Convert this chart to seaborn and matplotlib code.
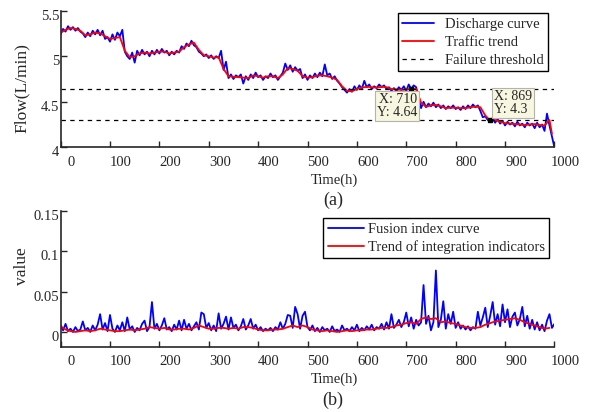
import matplotlib
matplotlib.use("Agg")
import matplotlib.pyplot as plt
import matplotlib.transforms as mtransforms
import numpy as np
import pandas as pd
import seaborn as sns

# ---------------- data ----------------
# (a) discharge flow, sampled every 5 h
flow_time = list(range(0, 1001, 5))
flow_value = [
    5.24, 5.30, 5.27, 5.33, 5.29, 5.32, 5.28, 5.31, 5.27, 5.25,
    5.21, 5.26, 5.22, 5.28, 5.24, 5.29, 5.23, 5.28, 5.19, 5.21,
    5.16, 5.24, 5.18, 5.26, 5.22, 5.29, 5.05, 5.00, 4.97, 5.04,
    4.93, 5.06, 5.01, 5.07, 5.02, 5.05, 5.00, 5.06, 5.02, 5.07,
    5.03, 5.08, 5.04, 5.06, 5.01, 5.05, 5.02, 5.06, 5.04, 5.11,
    5.08, 5.14, 5.11, 5.17, 5.12, 5.10, 5.05, 5.03, 5.00, 5.02,
    4.98, 5.01, 4.97, 5.00, 4.98, 5.06, 4.85, 4.94, 4.76, 4.80,
    4.75, 4.79, 4.77, 4.80, 4.70, 4.78, 4.74, 4.80, 4.76, 4.82,
    4.77, 4.79, 4.74, 4.78, 4.76, 4.81, 4.77, 4.79, 4.74, 4.78,
    4.82, 4.92, 4.85, 4.90, 4.83, 4.88, 4.84, 4.86, 4.76, 4.80,
    4.74, 4.79, 4.76, 4.81, 4.77, 4.82, 4.78, 4.91, 4.79, 4.81,
    4.75, 4.78, 4.73, 4.70, 4.66, 4.63, 4.60, 4.64, 4.61, 4.67,
    4.63, 4.68, 4.64, 4.73, 4.66, 4.69, 4.64, 4.67, 4.65, 4.69,
    4.66, 4.68, 4.64, 4.66, 4.62, 4.65, 4.62, 4.66, 4.63, 4.67,
    4.62, 4.69, 4.64, 4.68, 4.66, 4.55, 4.43, 4.50, 4.44, 4.48,
    4.45, 4.49, 4.44, 4.47, 4.43, 4.46, 4.42, 4.45, 4.43, 4.46,
    4.42, 4.44, 4.41, 4.45, 4.42, 4.46, 4.43, 4.47, 4.44, 4.46,
    4.40, 4.33, 4.34, 4.30, 4.29, 4.32, 4.27, 4.31, 4.26, 4.29,
    4.24, 4.28, 4.25, 4.27, 4.23, 4.28, 4.24, 4.26, 4.22, 4.27,
    4.24, 4.26, 4.21, 4.27, 4.22, 4.25, 4.18, 4.37, 4.24, 4.12,
    4.00,
]

# (a) smoothed flow trend, every 10 h
trend_time = list(range(0, 991, 10)) + [995]
trend_value = [
    5.26, 5.29, 5.31, 5.30, 5.28, 5.23, 5.24, 5.26, 5.25, 5.22,
    5.19, 5.20, 5.21, 5.06, 4.99, 5.00, 5.03, 5.04, 5.03, 5.04,
    5.05, 5.05, 5.03, 5.04, 5.05, 5.10, 5.13, 5.15, 5.07, 5.01,
    5.00, 4.985, 4.99, 4.86, 4.78, 4.775, 4.77, 4.765, 4.76, 4.79,
    4.78, 4.765, 4.78, 4.78, 4.76, 4.80, 4.87, 4.86, 4.84, 4.78,
    4.765, 4.77, 4.787, 4.79, 4.78, 4.765, 4.74, 4.67, 4.62, 4.615,
    4.64, 4.655, 4.665, 4.66, 4.655, 4.665, 4.66, 4.64, 4.635, 4.63,
    4.635, 4.64, 4.64, 4.49, 4.445, 4.46, 4.465, 4.45, 4.43, 4.435,
    4.435, 4.43, 4.43, 4.44, 4.447, 4.44, 4.35, 4.29, 4.30, 4.28,
    4.265, 4.26, 4.255, 4.25, 4.245, 4.25, 4.255, 4.245, 4.24, 4.30,
    4.15,
]

thresholds = [4.64, 4.30]
tip_points = [(710, 4.64), (869, 4.3)]

# (b) fusion health index, every 5 h
index_time = list(range(0, 1001, 5))
index_value = [
    0.008, 0.002, 0.010, 0.001, 0.004, 0.000, 0.006, 0.001, 0.003, 0.013,
    0.002, 0.005, 0.000, 0.008, 0.002, 0.009, 0.022, 0.003, 0.011, 0.001,
    0.021, 0.004, 0.000, 0.008, 0.002, 0.012, 0.001, 0.018, 0.003, 0.007,
    0.000, 0.005, 0.002, 0.010, 0.014, 0.001, 0.006, 0.037, 0.004, 0.010,
    0.002, 0.008, 0.017, 0.003, 0.006, 0.001, 0.009, 0.003, 0.014, 0.002,
    0.015, 0.004, 0.010, 0.002, 0.007, 0.012, 0.003, 0.024, 0.022, 0.005,
    0.011, 0.002, 0.008, 0.001, 0.023, 0.004, 0.010, 0.019, 0.003, 0.018,
    0.005, 0.009, 0.002, 0.007, 0.016, 0.003, 0.008, 0.016, 0.004, 0.009,
    0.002, 0.006, 0.001, 0.004, 0.002, 0.005, 0.001, 0.006, 0.003, 0.012,
    0.004, 0.010, 0.021, 0.020, 0.005, 0.031, 0.022, 0.004, 0.020, 0.025,
    0.006, 0.002, 0.008, 0.001, 0.005, 0.000, 0.006, 0.002, 0.004, 0.000,
    0.007, 0.001, 0.003, 0.000, 0.008, 0.002, 0.004, 0.001, 0.006, 0.002,
    0.009, 0.001, 0.005, 0.002, 0.007, 0.003, 0.009, 0.002, 0.006, 0.004,
    0.010, 0.003, 0.012, 0.004, 0.022, 0.005, 0.009, 0.015, 0.006, 0.012,
    0.024, 0.007, 0.018, 0.004, 0.015, 0.008, 0.012, 0.058, 0.010, 0.020,
    0.002, 0.012, 0.076, 0.006, 0.015, 0.038, 0.004, 0.022, 0.010, 0.025,
    0.005, 0.012, 0.004, 0.008, 0.003, 0.007, 0.002, 0.006, 0.004, 0.025,
    0.008, 0.018, 0.030, 0.006, 0.020, 0.037, 0.009, 0.022, 0.007, 0.034,
    0.012, 0.028, 0.006, 0.019, 0.024, 0.008, 0.016, 0.031, 0.007, 0.020,
    0.004, 0.015, 0.003, 0.012, 0.002, 0.009, 0.001, 0.014, 0.022, 0.005,
    0.010,
]

# (b) trend of the fusion index, every 10 h
index_trend_time = list(range(0, 991, 10))
index_trend_value = [
    0.007, 0.003, 0.001, 0.000, 0.001, 0.002, 0.001, 0.002, 0.004, 0.003,
    0.002, 0.001, 0.001, 0.002, 0.003, 0.002, 0.003, 0.004, 0.006, 0.005,
    0.004, 0.005, 0.003, 0.003, 0.004, 0.004, 0.003, 0.005, 0.008, 0.006,
    0.004, 0.004, 0.005, 0.005, 0.004, 0.005, 0.004, 0.006, 0.006, 0.005,
    0.003, 0.002, 0.002, 0.003, 0.003, 0.004, 0.006, 0.008, 0.006, 0.008,
    0.006, 0.003, 0.002, 0.001, 0.002, 0.001, 0.000, 0.001, 0.002, 0.001,
    0.002, 0.002, 0.003, 0.003, 0.004, 0.005, 0.005, 0.006, 0.008, 0.009,
    0.011, 0.012, 0.010, 0.016, 0.018, 0.016, 0.017, 0.012, 0.013, 0.011,
    0.010, 0.008, 0.006, 0.005, 0.005, 0.006, 0.009, 0.011, 0.013, 0.014,
    0.015, 0.016, 0.017, 0.015, 0.012, 0.010, 0.008, 0.006, 0.004, 0.005,
]

x_ticks = list(range(0, 1001, 100))
flow_ticks = [4, 4.5, 5, 5.5]
flow_tick_labels = ["4", "4.5", "5", "5.5"]
index_ticks = [0, 0.05, 0.1, 0.15]
index_tick_labels = ["0", "0.05", "0.1", "0.15"]

# ---------------- style ----------------
sns.set_theme(style="ticks")
plt.rcParams["font.family"] = ["Liberation Serif", "DejaVu Serif"]
plt.rcParams["axes.linewidth"] = 1.2
plt.rcParams["xtick.direction"] = "in"
plt.rcParams["ytick.direction"] = "in"

W, H = 590, 412
fig = plt.figure(figsize=(W / 100, H / 100), dpi=100)
INK = "#262626"


def px_axes(left, top, right, bottom):
    return fig.add_axes([left / W, 1 - bottom / H, (right - left) / W, (bottom - top) / H])


ax1 = px_axes(60.6, 10.7, 554.4, 147.3)
ax2 = px_axes(60.6, 210.7, 554.4, 346.5)

flow_df = pd.DataFrame({"t": flow_time, "v": flow_value})
trend_df = pd.DataFrame({"t": trend_time, "v": trend_value})
idx_df = pd.DataFrame({"t": index_time, "v": index_value})
idx_tr_df = pd.DataFrame({"t": index_trend_time, "v": index_trend_value})

sns.lineplot(data=flow_df, x="t", y="v", ax=ax1, color="#0000ff", lw=1.3,
             label="Discharge curve", sort=False)
sns.lineplot(data=trend_df, x="t", y="v", ax=ax1, color="#ff0000", lw=1.3,
             label="Traffic trend", sort=False)
for i, th in enumerate(thresholds):
    ax1.axhline(th, color="black", ls=(0, (3.5, 3.5)), lw=0.9,
                label="Failure threshold" if i == 0 else None)

sns.lineplot(data=idx_df, x="t", y="v", ax=ax2, color="#0000ff", lw=1.3,
             label="Fusion index curve", sort=False)
sns.lineplot(data=idx_tr_df, x="t", y="v", ax=ax2, color="#ff0000", lw=1.3,
             label="Trend of integration indicators", sort=False)

# data tips
for (tx, ty), (dx, dy, ha, va) in zip(tip_points, [(6, -4, "right", "top"), (4, 4, "left", "bottom")]):
    ax1.plot([tx], [ty], marker="s", ms=3.5, color="black", zorder=6)
    ax1.annotate(f"X: {tx}\nY: {ty:g}", xy=(tx, ty), xytext=(dx, dy),
                 textcoords="offset pixels", ha=ha, va=va, fontsize=10,
                 linespacing=0.95, zorder=7, color=INK,
                 bbox=dict(boxstyle="square,pad=0.15", fc="#f7f7e1", ec="#b4b4a8", lw=0.8))

label_shift_x = mtransforms.ScaledTranslation(11 / 100, 0, fig.dpi_scale_trans)
label_shift_y = mtransforms.ScaledTranslation(0, -4 / 100, fig.dpi_scale_trans)

for ax, yl, yt, ytl, ylab, ylab_y in [
    (ax1, (4, 5.5), flow_ticks, flow_tick_labels, "Flow(L/min)", 0.434),
    (ax2, (-0.018, 0.15), index_ticks, index_tick_labels, "value", 0.593),
]:
    ax.set_xlim(0, 1000)
    ax.set_ylim(*yl)
    ax.set_xticks(x_ticks)
    ax.set_xticklabels([str(t) for t in x_ticks])
    ax.set_yticks(yt)
    ax.set_yticklabels(ytl)
    ax.tick_params(axis="both", labelsize=10.5, length=4, width=1.0, color=INK,
                   pad=2, labelcolor=INK)
    ax.tick_params(axis="x", pad=6)
    ax.tick_params(axis="y", pad=1)
    for lab in ax.get_xticklabels():
        lab.set_transform(lab.get_transform() + label_shift_x)
    for lab in ax.get_yticklabels():
        lab.set_transform(lab.get_transform() + label_shift_y)
    sns.despine(ax=ax)
    ax.spines["left"].set_color(INK)
    ax.spines["bottom"].set_color(INK)
    ax.set_xlabel("Time(h)", fontsize=10.5, color=INK)
    ax.xaxis.set_label_coords((334 - 60.6) / 493.8, -0.239)
    ax.xaxis.label.set_va("center")
    ax.set_ylabel(ylab, fontsize=12.5, color=INK)
    ax.yaxis.set_label_coords(-0.079, ylab_y)
    ax.yaxis.label.set_va("center")
    ax.set_facecolor("white")

leg_kw = dict(frameon=True, fancybox=False, edgecolor="black", fontsize=10.5,
              borderpad=0.3, borderaxespad=0, bbox_transform=fig.transFigure)
leg1 = ax1.legend(loc="upper right", bbox_to_anchor=(548.3 / W, 1 - 13.3 / H),
                  labelspacing=0.33, handlelength=2.2, handletextpad=0.75, **leg_kw)
leg2 = ax2.legend(loc="upper right", bbox_to_anchor=(549.3 / W, 1 - 218.3 / H),
                  labelspacing=0.3, handlelength=2.5, handletextpad=0.25, **leg_kw)
for leg in (leg1, leg2):
    leg.get_frame().set_linewidth(1.0)
    leg.get_frame().set_alpha(1)
    for t in leg.get_texts():
        t.set_color(INK)

fig.text(333 / W, 1 - 200 / H, "(a)", ha="center", va="center", fontsize=13, color=INK)
fig.text(333 / W, 1 - 400 / H, "(b)", ha="center", va="center", fontsize=13, color=INK)

fig.savefig("out.png", dpi=100)
